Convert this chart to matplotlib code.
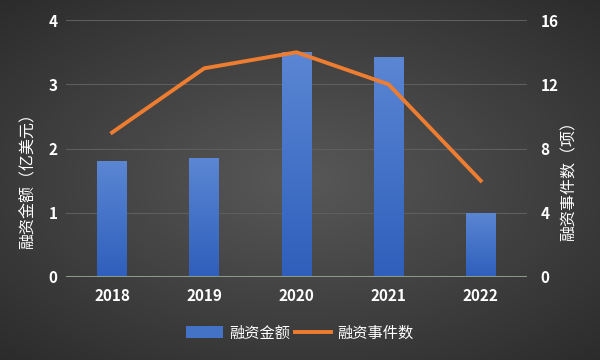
import numpy as np
import matplotlib
matplotlib.use("Agg")
import matplotlib.pyplot as plt
from matplotlib.colors import LinearSegmentedColormap
from matplotlib.patches import Patch
from matplotlib.lines import Line2D

plt.rcParams['font.family'] = ['Noto Sans CJK SC', 'DejaVu Sans']

# 数据
years = ["2018", "2019", "2020", "2021", "2022"]
amount = [1.8, 1.85, 3.5, 3.43, 1.0]      # 融资金额（亿美元）
events = [9, 13, 14, 12, 6]               # 融资事件数（项）

fig = plt.figure(figsize=(6, 3.6), dpi=100)

# 背景：径向渐变
bg = fig.add_axes([0, 0, 1, 1], zorder=-10)
yy, xx = np.mgrid[-1:1:360j, -1:1:600j]
r = np.sqrt((xx * 0.85) ** 2 + (yy * 0.9) ** 2)
bg_cmap = LinearSegmentedColormap.from_list("bg", ["#585858", "#2b2b2b"])
bg.imshow(r, cmap=bg_cmap, aspect="auto", extent=[0, 1, 0, 1], vmin=0, vmax=1.25)
bg.axis("off")

ax = fig.add_axes([0.11, 0.2306, 0.768, 0.7134])
ax.patch.set_alpha(0)
x = np.arange(len(years))
bars = ax.bar(x, amount, width=0.32, color="#4472c4", zorder=2)

# 柱子渐变
bar_cmap = LinearSegmentedColormap.from_list("bar", ["#2e5fbb", "#5b86d4"])
grad = np.linspace(0, 1, 100).reshape(-1, 1)
for b in bars:
    x0, w, h = b.get_x(), b.get_width(), b.get_height()
    im = ax.imshow(grad, cmap=bar_cmap, aspect="auto", origin="lower",
                   extent=[x0, x0 + w, 0, h], zorder=3)
    im.set_clip_path(b)
ax.set_xlim(-0.5, len(years) - 0.5)
ax.set_ylim(0, 4)
ax.set_yticks([0, 1, 2, 3, 4])
ax.set_xticks(x)
ax.set_xticklabels(years)
ax.grid(axis="y", color="#5e5e5e", linewidth=0.8, zorder=0)
ax.axhline(0, color="#8a9a86", linewidth=2.2, zorder=4)
for s in ax.spines.values():
    s.set_visible(False)
ax.tick_params(length=0, colors="white", labelsize=11, pad=6)
ax.tick_params(axis="x", pad=8)
for t in ax.get_xticklabels() + ax.get_yticklabels():
    t.set_fontweight("bold")
ax.set_ylabel("融资金额（亿美元）", color="white", fontsize=11.5)
ax.yaxis.set_label_coords(-0.064, 0.39)

ax2 = ax.twinx()
ax2.plot(x, events, color="#ed7d31", linewidth=2.8, zorder=5)
ax2.set_ylim(0, 16)
ax2.set_yticks([0, 4, 8, 12, 16])
for s in ax2.spines.values():
    s.set_visible(False)
ax2.tick_params(length=0, colors="white", labelsize=11, pad=10)
for t in ax2.get_yticklabels():
    t.set_fontweight("bold")
ax2.set_ylabel("融资事件数（项）", color="white", fontsize=11.5, rotation=90)
ax2.yaxis.set_label_coords(1.074, 0.39)

handles = [Patch(facecolor="#4472c4", edgecolor="none"),
           Line2D([0], [0], color="#ed7d31", linewidth=2.8)]
leg = fig.legend(handles, ["融资金额", "融资事件数"], loc="center",
                 bbox_to_anchor=(0.5, 0.075), ncol=2, frameon=False,
                 fontsize=11, handlelength=2.4, handleheight=0.8,
                 columnspacing=0.3, handletextpad=0.4)
for t in leg.get_texts():
    t.set_color("white")

fig.savefig("out.png", dpi=100)
